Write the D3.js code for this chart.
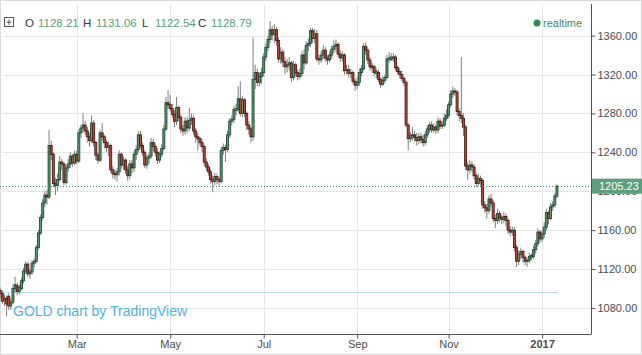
<!DOCTYPE html>
<html><head><meta charset="utf-8">
<script src="https://cdn.jsdelivr.net/npm/d3@7"></script>
<style>body{margin:0;background:#fff;} svg{display:block;font-family:"Liberation Sans",Arial,sans-serif;}</style>
</head><body><svg id="c" width="642" height="355"></svg>
<script>
const firstDay = "2016-01-11", lastDay = "2017-01-11";
const opens = [
1098,1095,1088,1090,1092,1082,1086,1100,1103,1097,
1100,1108,1118,1125,1115,1117,1126,1128,1142,1157,
1173,1188,1196,1194,1247,1238,1208,1206,1212,1230,
1228,1209,1224,1228,1236,1229,1238,1231,1260,1265,
1268,1262,1256,1252,1270,1250,1237,1232,1260,1256,
1250,1245,1247,1222,1218,1217,1220,1238,1227,1232,
1222,1216,1228,1224,1238,1243,1258,1247,1240,1227,
1234,1236,1250,1246,1240,1232,1238,1244,1264,1291,
1289,1285,1279,1272,1286,1276,1264,1262,1272,1265,
1273,1275,1262,1256,1254,1250,1246,1230,1225,1220,
1212,1210,1215,1212,1210,1242,1245,1243,1258,1272,
1274,1283,1284,1295,1280,1294,1280,1268,1264,1256,
1315,1322,1312,1318,1322,1338,1348,1356,1366,1361,
1366,1355,1336,1343,1333,1328,1330,1332,1317,1330,
1322,1318,1321,1340,1332,1350,1352,1365,1357,1362,
1336,1335,1340,1345,1337,1335,1340,1346,1349,1351,
1341,1337,1340,1324,1325,1321,1322,1313,1309,1312,
1322,1326,1349,1345,1335,1329,1328,1321,1322,1315,
1310,1314,1317,1336,1335,1337,1338,1327,1323,1320,
1316,1312,1268,1254,1257,1258,1255,1252,1256,1253,
1250,1258,1264,1268,1263,1266,1263,1272,1267,1268,
1275,1278,1289,1300,1303,1302,1282,1278,1275,1266,
1226,1222,1227,1225,1216,1208,1213,1211,1186,1183,
1180,1192,1188,1172,1170,1177,1173,1171,1174,1170,
1160,1158,1160,1142,1128,1135,1138,1132,1128.21,1129,
1132,1133,1140,1146,1158,1151,1156,1163,1178,1172,
1184,1186,1195];
const closes = [
1095,1087,1090,1084,1082,1086,1100,1104,1097,1101,
1108,1118,1125,1115,1117,1126,1128,1142,1157,1173,
1188,1196,1194,1247,1238,1208,1206,1212,1230,1228,
1209,1224,1228,1236,1229,1238,1231,1260,1265,1268,
1262,1256,1252,1270,1250,1237,1232,1260,1256,1250,
1245,1247,1222,1218,1217,1220,1238,1227,1232,1222,
1216,1228,1224,1238,1243,1258,1247,1240,1227,1234,
1236,1250,1246,1240,1232,1238,1244,1264,1291,1289,
1285,1279,1272,1286,1276,1264,1262,1272,1265,1273,
1275,1262,1256,1254,1250,1246,1230,1225,1220,1212,
1210,1215,1212,1210,1242,1245,1243,1258,1272,1274,
1284,1285,1295,1280,1294,1280,1268,1264,1256,1315,
1322,1312,1318,1322,1338,1348,1356,1366,1361,1366,
1355,1336,1343,1333,1328,1330,1332,1317,1330,1322,
1318,1321,1340,1332,1350,1352,1365,1357,1362,1336,
1335,1340,1345,1337,1335,1340,1346,1349,1351,1341,
1337,1340,1324,1325,1321,1322,1313,1309,1312,1322,
1326,1349,1345,1335,1328,1327,1322,1323,1315,1310,
1314,1317,1336,1337,1338,1338,1327,1323,1320,1316,
1312,1268,1254,1257,1258,1255,1252,1256,1253,1250,
1258,1264,1268,1263,1266,1263,1272,1267,1268,1275,
1278,1289,1300,1303,1302,1282,1278,1275,1266,1226,
1222,1227,1225,1216,1208,1213,1211,1186,1183,1180,
1192,1188,1172,1170,1177,1173,1171,1174,1170,1160,
1158,1160,1142,1128,1135,1138,1132,1128,1128.79,1133,
1134,1140,1146,1158,1151,1156,1163,1178,1172,1184,
1186,1195,1205.23];
const highs = [
1101,1098,1094,1093,1095,1090,1104,1112,1106,1104,
1111,1121,1128,1127,1120,1129,1131,1145,1160,1176,
1192,1200,1201,1263,1252,1240,1214,1218,1236,1233,
1230,1227,1233,1240,1238,1242,1242,1264,1268,1280,
1272,1266,1260,1278,1273,1252,1240,1263,1270,1258,
1253,1251,1249,1226,1222,1224,1242,1240,1236,1234,
1226,1232,1232,1242,1247,1262,1262,1250,1242,1238,
1240,1255,1254,1250,1244,1241,1248,1268,1297,1304,
1299,1290,1283,1297,1288,1279,1268,1276,1276,1286,
1280,1278,1265,1260,1256,1254,1248,1234,1228,1223,
1216,1219,1218,1215,1246,1249,1248,1262,1275,1278,
1288,1290,1308,1313,1298,1296,1282,1272,1266,1358,
1330,1326,1322,1327,1342,1352,1360,1375,1370,1372,
1369,1358,1348,1346,1338,1336,1338,1334,1334,1332,
1325,1326,1344,1346,1354,1357,1368,1368,1367,1366,
1340,1344,1350,1348,1340,1344,1350,1355,1356,1353,
1345,1344,1342,1330,1330,1326,1324,1316,1318,1326,
1330,1352,1353,1348,1338,1332,1330,1326,1325,1317,
1318,1320,1340,1343,1342,1342,1340,1329,1326,1324,
1318,1314,1270,1261,1266,1262,1260,1260,1260,1258,
1262,1268,1271,1272,1270,1269,1276,1275,1272,1280,
1284,1292,1304,1308,1306,1304,1285,1338,1280,1268,
1230,1232,1231,1228,1219,1218,1216,1213,1190,1187,
1196,1197,1191,1176,1182,1180,1176,1178,1177,1172,
1164,1164,1163,1145,1139,1142,1140,1134,1131.06,1137,
1136,1144,1150,1162,1160,1160,1168,1182,1180,1188,
1190,1198,1207];
const lows = [
1090,1084,1082,1071,1078,1078,1084,1096,1093,1094,
1098,1105,1115,1112,1110,1114,1122,1126,1140,1155,
1170,1184,1186,1192,1232,1204,1196,1200,1210,1222,
1206,1207,1220,1224,1225,1227,1228,1229,1255,1260,
1258,1250,1246,1250,1246,1232,1228,1230,1252,1244,
1240,1236,1219,1213,1212,1210,1216,1223,1222,1218,
1211,1212,1218,1220,1232,1240,1244,1236,1224,1223,
1228,1233,1241,1236,1228,1229,1235,1242,1262,1285,
1282,1275,1266,1268,1272,1260,1257,1258,1260,1262,
1268,1258,1250,1242,1246,1240,1226,1221,1216,1208,
1199,1206,1207,1205,1208,1238,1230,1240,1255,1268,
1270,1278,1281,1277,1276,1276,1263,1258,1250,1252,
1305,1308,1308,1310,1318,1334,1344,1352,1355,1352,
1350,1332,1331,1328,1320,1322,1324,1312,1314,1318,
1314,1315,1318,1325,1330,1344,1348,1352,1352,1333,
1330,1332,1336,1333,1330,1332,1336,1342,1343,1338,
1333,1333,1320,1320,1317,1316,1310,1303,1305,1308,
1318,1324,1340,1331,1324,1322,1318,1316,1312,1306,
1308,1311,1315,1332,1334,1333,1324,1320,1316,1313,
1308,1266,1242,1250,1252,1251,1247,1248,1249,1246,
1247,1255,1260,1260,1260,1259,1260,1264,1264,1266,
1272,1275,1286,1296,1298,1278,1272,1270,1257,1222,
1212,1218,1220,1212,1204,1205,1206,1182,1178,1172,
1177,1184,1168,1162,1166,1168,1166,1167,1164,1156,
1154,1154,1138,1122,1124,1130,1126,1124,1122.54,1126,
1129,1130,1136,1143,1147,1148,1152,1160,1166,1170,
1180,1183,1193];
const priceTicks = [1080,1120,1160,1200,1240,1280,1320,1360];
const monthStarts = ["2016-03","2016-05","2016-07","2016-09","2016-11","2017-01"];
const monthLabels = ["Mar","May","Jul","Sep","Nov","2017"];
const legendKeys = ["O","H","L","C"];
const legendValues = ["1128.21","1131.06","1122.54","1128.79"];
const lastPrice = 1205.23;
const symbolText = "GOLD chart by TradingView";
const statusText = "realtime";

const W = 642, H = 355;
const plot = {left:0, right:591, top:4, bottom:334};
const svg = d3.select("#c");

// trading days (weekdays) between first and last day
const parse = d3.timeParse("%Y-%m-%d");
const dates = d3.timeDay.range(parse(firstDay), d3.timeDay.offset(parse(lastDay),1)).filter(d => d.getDay()%6 !== 0);
const n = closes.length;
const idx = d3.range(n);

const x = d3.scaleLinear().domain([-0.094, 278.02]).range([plot.left, plot.right]);
const y = d3.scaleLinear().domain([1053.2, 1392.5]).range([plot.bottom, plot.top]);
const fmtM = d3.timeFormat("%Y-%m");
const tickIdx = monthStarts.map(m => dates.findIndex(d => fmtM(d) === m));

// frame
svg.append("rect").attr("x",0.5).attr("y",0.5).attr("width",W-1).attr("height",H-1).attr("fill","#fff").attr("stroke","#d9d9d9");

// grid
const g = svg.append("g");
g.selectAll(".hg").data(priceTicks).join("line")
  .attr("x1",plot.left).attr("x2",plot.right)
  .attr("y1",d=>Math.round(y(d))+0.5).attr("y2",d=>Math.round(y(d))+0.5)
  .attr("stroke","#e6e6e6");
g.selectAll(".vg").data(tickIdx).join("line")
  .attr("x1",d=>Math.round(x(d))+0.5).attr("x2",d=>Math.round(x(d))+0.5)
  .attr("y1",plot.top).attr("y2",plot.bottom)
  .attr("stroke","#e6e6e6");

// watermark
svg.append("line").attr("x1",0).attr("x2",558).attr("y1",292.5).attr("y2",292.5).attr("stroke","#b9dde9").attr("stroke-width",1);
svg.append("text").attr("x",13).attr("y",316).attr("font-size",14).attr("fill","#4eb3dd").text(symbolText);

// candles
const upFill="#5a9e76", downFill="#c24a37", upBorder="#1f4a33", downBorder="#4f1a12", wick="#6e6e70";
const bw = 2.0;
const cg = svg.append("g");
cg.selectAll(".w").data(idx).join("line")
  .attr("x1",i=>x(i)).attr("x2",i=>x(i))
  .attr("y1",i=>y(highs[i])).attr("y2",i=>y(lows[i]))
  .attr("stroke",wick).attr("stroke-width",0.9);
cg.selectAll(".b").data(idx).join("rect")
  .attr("x",i=>x(i)-bw/2).attr("width",bw)
  .attr("y",i=>y(Math.max(opens[i],closes[i])))
  .attr("height",i=>Math.max(0.8, Math.abs(y(opens[i])-y(closes[i]))))
  .attr("fill",i=>closes[i]>=opens[i]?upFill:downFill)
  .attr("stroke",i=>closes[i]>=opens[i]?upBorder:downBorder)
  .attr("stroke-width",0.9);

// last price line
svg.append("line").attr("x1",plot.left).attr("x2",plot.right)
  .attr("y1",Math.round(y(lastPrice))+0.5).attr("y2",Math.round(y(lastPrice))+0.5)
  .attr("stroke","#3d8a63").attr("stroke-dasharray","1,2");

// axes
const yAxis = d3.axisRight(y).tickValues(priceTicks).tickSize(4).tickFormat(d3.format(".2f"));
const ya = svg.append("g").attr("transform",`translate(${plot.right+0.5},0)`).call(yAxis);
ya.select(".domain").attr("stroke","#555").attr("d",`M0,${plot.top}V${plot.bottom}`);
ya.selectAll(".tick line").attr("stroke","#555");
ya.selectAll(".tick text").attr("x",6).attr("font-size",11).attr("fill","#4d4d4d").attr("font-family","Liberation Sans, Arial, sans-serif");

const xAxis = d3.axisBottom(x).tickValues(tickIdx).tickSize(4).tickFormat((d,i)=>monthLabels[i]);
const xa = svg.append("g").attr("transform",`translate(0,${plot.bottom+0.5})`).call(xAxis);
xa.select(".domain").attr("stroke","#555").attr("d",`M${plot.left},0H${plot.right+0.5}`);
xa.selectAll(".tick line").attr("stroke","#555");
xa.selectAll(".tick text").attr("y",6).attr("font-size",11).attr("fill","#4d4d4d")
  .attr("font-family","Liberation Sans, Arial, sans-serif")
  .attr("font-weight",(d,i)=>monthLabels[i]==="2017"?"bold":"normal");

// price label (covers the 1200.00 tick text as in the original)
const py = y(lastPrice);
svg.append("rect").attr("x",plot.right+1).attr("y",py-7.5).attr("width",W-plot.right-1).attr("height",15).attr("fill","#5d9e7e");
svg.append("text").attr("x",plot.right+8).attr("y",py+4).attr("font-size",11).attr("fill","#fff").text(d3.format(".2f")(lastPrice));

// legend
const lg = svg.append("g").attr("font-size",11.5);
lg.append("rect").attr("x",4.5).attr("y",17.5).attr("width",9).attr("height",9).attr("fill","none").attr("stroke","#555");
lg.append("path").attr("d","M9,19.5V25 M6.5,22.2H11.5").attr("stroke","#555");
const lx = [25,83,142,198];
legendKeys.forEach((k,i)=>{
  lg.append("text").attr("x",lx[i]).attr("y",27).attr("fill","#333").text(k);
  lg.append("text").attr("x",lx[i]+13).attr("y",27).attr("fill","#5a9e78").text(legendValues[i]);
});
svg.append("circle").attr("cx",537).attr("cy",23).attr("r",3.5).attr("fill","#2e8b57");
svg.append("text").attr("x",543).attr("y",27).attr("font-size",11).attr("fill","#3d8a63").text(statusText);
</script></body></html>
